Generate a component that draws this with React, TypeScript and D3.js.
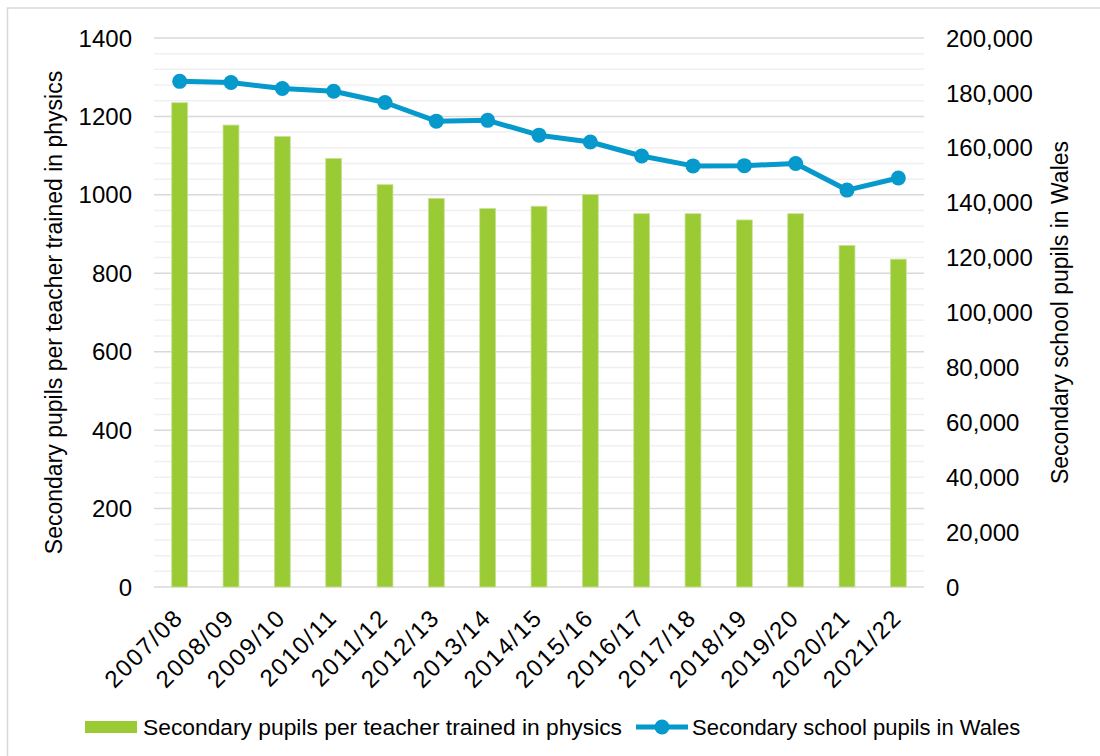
import * as d3 from "d3";
import React from "react";

const years = [
  "2007/08", "2008/09", "2009/10", "2010/11", "2011/12", "2012/13", "2013/14", "2014/15",
  "2015/16", "2016/17", "2017/18", "2018/19", "2019/20", "2020/21", "2021/22",
];
const pupilsPerTeacher = [1235, 1178, 1149, 1093, 1026, 991, 965, 971, 1001, 952, 952, 936, 952, 871, 836];
const pupilsInWales = [
  184200, 183800, 181600, 180600, 176500, 169700, 170000, 164600,
  162100, 157000, 153400, 153500, 154300, 144600, 149000,
];
const leftTicks = [0, 200, 400, 600, 800, 1000, 1200, 1400];
const rightTicks = [0, 20000, 40000, 60000, 80000, 100000, 120000, 140000, 160000, 180000, 200000];

const barLabel = "Secondary pupils per teacher trained in physics";
const lineLabel = "Secondary school pupils in Wales";

const W = 1100;
const H = 756;
const margin = { left: 154, right: 176, top: 38, bottom: 169 };
const FONT = "'Liberation Sans', Arial, sans-serif";
const GREEN = "#9bcb34";
const BLUE = "#0599cc";

export default function App() {
  const innerW = W - margin.left - margin.right;
  const innerH = H - margin.top - margin.bottom;

  const x = d3.scaleBand<string>().domain(years).range([0, innerW]).padding(0);
  const yLeft = d3.scaleLinear().domain([0, 1400]).range([innerH, 0]);
  const yRight = d3.scaleLinear().domain([0, 200000]).range([innerH, 0]);
  const barW = x.bandwidth() * 0.31;
  const cx = (d: string) => (x(d) ?? 0) + x.bandwidth() / 2;

  const minor = d3.range(0, 1401, 40);
  const line = d3.line<number>()
    .x((_, i) => cx(years[i]))
    .y((d) => yRight(d));

  const fmt = d3.format(",");

  return (
    <div style={{ position: "absolute", left: 0, top: 0 }}>
      <svg width={W} height={H} style={{ display: "block", background: "#fff" }} fontFamily={FONT}>
        <rect x={7.5} y={8} width={W + 10} height={H + 10} fill="none" stroke="#d9d9d9" strokeWidth={1.5} />
        <g transform={`translate(${margin.left},${margin.top})`}>
          {minor.map((v) => (
            <line key={"m" + v} x1={0} x2={innerW} y1={yLeft(v)} y2={yLeft(v)}
              stroke={v % 200 === 0 ? "#d9d9d9" : "#f0f0f0"} strokeWidth={1.5} />
          ))}
          {pupilsPerTeacher.map((v, i) => (
            <rect key={"b" + i} x={cx(years[i]) - barW / 2} y={yLeft(v)} width={barW}
              height={innerH - yLeft(v)} fill={GREEN} stroke="#c8e29a" strokeWidth={0.8} />
          ))}
          <path d={line(pupilsInWales) ?? ""} fill="none" stroke={BLUE} strokeWidth={5} strokeLinejoin="round" />
          {pupilsInWales.map((v, i) => (
            <circle key={"c" + i} cx={cx(years[i])} cy={yRight(v)} r={7.5} fill={BLUE} />
          ))}
          {leftTicks.map((v) => (
            <text key={"l" + v} x={-22} y={yLeft(v)} dy="0.36em" textAnchor="end" fontSize={24} fill="#000">
              {v}
            </text>
          ))}
          {rightTicks.map((v) => (
            <text key={"r" + v} x={innerW + 22} y={yRight(v)} dy="0.36em" textAnchor="start" fontSize={24} fill="#000">
              {fmt(v)}
            </text>
          ))}
          {years.map((d) => (
            <text key={"x" + d} transform={`translate(${cx(d) + 5},${innerH + 32}) rotate(-45)`}
              textAnchor="end" fontSize={24} letterSpacing={1.8} fill="#000">
              {d}
            </text>
          ))}
          <text transform={`translate(${-92},${innerH / 2}) rotate(-90)`} textAnchor="middle" fontSize={23} fill="#000">
            {barLabel}
          </text>
          <text transform={`translate(${innerW + 144},${innerH / 2}) rotate(-90)`} textAnchor="middle" fontSize={23} fill="#000">
            {lineLabel}
          </text>
        </g>
        <g transform="translate(0,727)">
          <rect x={85} y={-6} width={52} height={12} fill={GREEN} />
          <text x={143} y={0} dy="0.36em" fontSize={22.8} fill="#000">{barLabel}</text>
          <line x1={636} x2={688} y1={0} y2={0} stroke={BLUE} strokeWidth={5} />
          <circle cx={662} cy={0} r={7.5} fill={BLUE} />
          <text x={692} y={0} dy="0.36em" fontSize={22} fill="#000">{lineLabel}</text>
        </g>
      </svg>
    </div>
  );
}
